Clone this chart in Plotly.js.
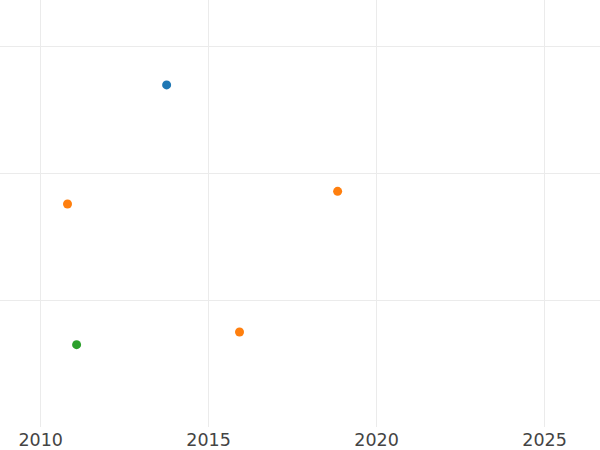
<!DOCTYPE html>
<html>
<head>
<meta charset="utf-8">
<script src="https://cdn.plot.ly/plotly-3.0.1.min.js"></script>
<style>html,body{margin:0;padding:0;background:#fff;}#chart{width:600px;height:450px;}</style>
</head>
<body>
<div id="chart"></div>
<script>
// Data
const blueX = [2013.75];
const blueY = [2.70];
const orangeX = [2010.80, 2018.84, 2015.92];
const orangeY = [1.76, 1.86, 0.75];
const greenX = [2011.07];
const greenY = [0.65];

const colors = ['#1f77b4', '#ff7f0e', '#2ca02c'];
const series = [[blueX, blueY], [orangeX, orangeY], [greenX, greenY]];

const traces = series.map((s, i) => ({
  x: s[0], y: s[1], type: 'scatter', mode: 'markers',
  marker: {color: colors[i], size: 9},
  showlegend: false, hoverinfo: 'none'
}));

const layout = {
  width: 600, height: 450,
  margin: {l: 0, r: 0, t: 0, b: 23, pad: 0},
  paper_bgcolor: '#fff', plot_bgcolor: '#fff',
  font: {family: 'DejaVu Sans, sans-serif', size: 17.5, color: '#444'},
  showlegend: false,
  xaxis: {
    range: [2008.79, 2026.65], tickmode: 'linear', tick0: 2010, dtick: 5,
    showgrid: true, gridcolor: '#ebebeb', gridwidth: 1,
    zeroline: false, showline: false, ticks: '',
    tickfont: {family: 'DejaVu Sans, sans-serif', size: 17.5, color: '#444'}
  },
  yaxis: {
    range: [0.0, 3.37], tickmode: 'linear', tick0: 0, dtick: 1,
    showgrid: true, gridcolor: '#ebebeb', gridwidth: 1,
    zeroline: false, showline: false, showticklabels: false, ticks: ''
  }
};

Plotly.newPlot('chart', traces, layout, {displayModeBar: false, staticPlot: true});
</script>
</body>
</html>
